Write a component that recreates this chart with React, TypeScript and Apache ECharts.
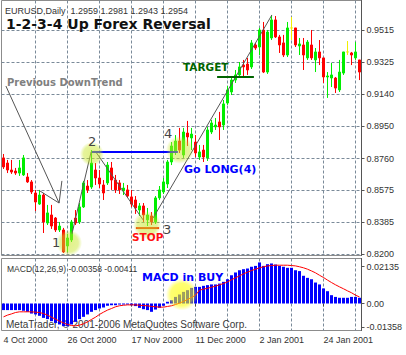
import React, { useEffect, useRef } from 'react';
import * as echarts from 'echarts';

// ---------- data ----------
const START_DATE = '2000-10-04';
const SKIPPED_DAYS: string[] = [];
const BAR_COUNT = 90;
const LABEL_EVERY = 16;
const GRID_EVERY = 8;
const MONTHS = ['Jan', 'Feb', 'Mar', 'Apr', 'May', 'Jun', 'Jul', 'Aug', 'Sep', 'Oct', 'Nov', 'Dec'];

const opens = [
  0.8764, 0.8734, 0.8693, 0.8687, 0.8675, 0.8664, 0.8652, 0.8623, 0.8558, 0.8493,
  0.8546, 0.8382, 0.8429, 0.8411, 0.8341, 0.8341, 0.8247, 0.8282, 0.8411, 0.8388,
  0.8476, 0.8599, 0.8593, 0.8693, 0.8646, 0.8605, 0.8617, 0.8705, 0.8634, 0.8617,
  0.8570, 0.8576, 0.8535, 0.8517, 0.8458, 0.8482, 0.8400, 0.8423, 0.8388, 0.8529,
  0.8564, 0.8611, 0.8740, 0.8799, 0.8863, 0.8781, 0.8910, 0.8881, 0.8857, 0.8769,
  0.8810, 0.8764, 0.8916, 0.8946, 0.8975, 0.8957, 0.9086, 0.9151, 0.9221, 0.9251,
  0.9309, 0.9315, 0.9298, 0.9427, 0.9415, 0.9515, 0.9268, 0.9468, 0.9574, 0.9474,
  0.9439, 0.9368, 0.9527, 0.9527, 0.9421, 0.9427, 0.9351, 0.9427, 0.9339, 0.9386,
  0.9351, 0.9239, 0.9233, 0.9233, 0.9163, 0.9262, 0.9386, 0.9380, 0.9351, 0.9339,
];
const closes = [
  0.8711, 0.8693, 0.8681, 0.8675, 0.8705, 0.8764, 0.8623, 0.8564, 0.8505, 0.8546,
  0.8388, 0.8441, 0.8364, 0.8341, 0.8364, 0.8212, 0.8294, 0.8388, 0.8382, 0.8476,
  0.8617, 0.8576, 0.8734, 0.8646, 0.8611, 0.8558, 0.8722, 0.8634, 0.8576, 0.8576,
  0.8587, 0.8540, 0.8493, 0.8470, 0.8482, 0.8429, 0.8429, 0.8388, 0.8529, 0.8576,
  0.8623, 0.8740, 0.8834, 0.8863, 0.8810, 0.8916, 0.8887, 0.8904, 0.8793, 0.8799,
  0.8769, 0.8928, 0.8969, 0.8957, 0.8946, 0.9081, 0.9163, 0.9221, 0.9251, 0.9298,
  0.9298, 0.9280, 0.9439, 0.9409, 0.9515, 0.9268, 0.9503, 0.9574, 0.9474, 0.9427,
  0.9368, 0.9527, 0.9527, 0.9427, 0.9433, 0.9368, 0.9444, 0.9351, 0.9386, 0.9351,
  0.9239, 0.9245, 0.9251, 0.9174, 0.9268, 0.9386, 0.9386, 0.9368, 0.9386, 0.9268,
];
const lows = [
  0.8699, 0.8675, 0.8670, 0.8664, 0.8658, 0.8658, 0.8617, 0.8552, 0.8452, 0.8488,
  0.8323, 0.8370, 0.8347, 0.8329, 0.8329, 0.8206, 0.8212, 0.8270, 0.8370, 0.8376,
  0.8470, 0.8558, 0.8582, 0.8605, 0.8587, 0.8517, 0.8605, 0.8576, 0.8558, 0.8552,
  0.8546, 0.8529, 0.8476, 0.8435, 0.8423, 0.8388, 0.8364, 0.8370, 0.8376, 0.8517,
  0.8552, 0.8587, 0.8722, 0.8781, 0.8793, 0.8764, 0.8834, 0.8810, 0.8769, 0.8752,
  0.8740, 0.8746, 0.8904, 0.8928, 0.8869, 0.8928, 0.9075, 0.9133, 0.9204, 0.9233,
  0.9239, 0.9251, 0.9286, 0.9398, 0.9368, 0.9262, 0.9257, 0.9456, 0.9468, 0.9380,
  0.9356, 0.9356, 0.9456, 0.9415, 0.9368, 0.9280, 0.9339, 0.9339, 0.9268, 0.9309,
  0.9204, 0.9116, 0.9180, 0.9145, 0.9151, 0.9251, 0.9368, 0.9309, 0.9339, 0.9221,
];
const highs = [
  0.8787, 0.8752, 0.8752, 0.8705, 0.8752, 0.8781, 0.8675, 0.8634, 0.8576, 0.8576,
  0.8558, 0.8488, 0.8488, 0.8417, 0.8388, 0.8353, 0.8317, 0.8400, 0.8458, 0.8499,
  0.8629, 0.8634, 0.8810, 0.8734, 0.8693, 0.8634, 0.8740, 0.8740, 0.8664, 0.8634,
  0.8617, 0.8605, 0.8576, 0.8540, 0.8499, 0.8499, 0.8470, 0.8446, 0.8540, 0.8599,
  0.8646, 0.8752, 0.8857, 0.8898, 0.8940, 0.8940, 0.8981, 0.8940, 0.8898, 0.8840,
  0.8840, 0.8946, 0.8987, 0.8998, 0.9034, 0.9104, 0.9186, 0.9245, 0.9280, 0.9327,
  0.9339, 0.9351, 0.9456, 0.9439, 0.9527, 0.9562, 0.9515, 0.9603, 0.9597, 0.9486,
  0.9486, 0.9562, 0.9591, 0.9527, 0.9468, 0.9468, 0.9456, 0.9515, 0.9409, 0.9456,
  0.9351, 0.9268, 0.9321, 0.9239, 0.9339, 0.9386, 0.9450, 0.9386, 0.9444, 0.9339,
];
const macdMain = [
  -0.0038, -0.0038, -0.0038, -0.0038, -0.0038, -0.0042, -0.0048, -0.0058, -0.0063, -0.0071,
  -0.0083, -0.0090, -0.0102, -0.0112, -0.0121, -0.0131, -0.0131, -0.0121, -0.0106, -0.0090,
  -0.0077, -0.0063, -0.0048, -0.0038, -0.0029, -0.0023, -0.0013, -0.0010, -0.0010, -0.0006,
  -0.0006, -0.0006, -0.0010, -0.0015, -0.0025, -0.0033, -0.0038, -0.0048, -0.0035, -0.0025,
  -0.0013, 0.0010, 0.0019, 0.0038, 0.0052, 0.0067, 0.0077, 0.0090, 0.0096, 0.0096,
  0.0102, 0.0106, 0.0110, 0.0110, 0.0115, 0.0125, 0.0140, 0.0163, 0.0179, 0.0192,
  0.0198, 0.0202, 0.0212, 0.0217, 0.0237, 0.0217, 0.0227, 0.0231, 0.0225, 0.0217,
  0.0212, 0.0206, 0.0206, 0.0192, 0.0187, 0.0160, 0.0148, 0.0140, 0.0121, 0.0110,
  0.0087, 0.0071, 0.0048, 0.0038, 0.0033, 0.0033, 0.0033, 0.0038, 0.0038, 0.0033,
];
const macdSignal = [
  -0.0077, -0.0067, -0.0060, -0.0052, -0.0048, -0.0048, -0.0048, -0.0048, -0.0050, -0.0052,
  -0.0058, -0.0067, -0.0079, -0.0090, -0.0102, -0.0112, -0.0121, -0.0127, -0.0129, -0.0125,
  -0.0117, -0.0106, -0.0092, -0.0079, -0.0063, -0.0050, -0.0038, -0.0029, -0.0019, -0.0013,
  -0.0010, -0.0008, -0.0008, -0.0008, -0.0010, -0.0012, -0.0013, -0.0017, -0.0019, -0.0021,
  -0.0021, -0.0017, -0.0013, -0.0006, 0.0002, 0.0012, 0.0023, 0.0035, 0.0048, 0.0077,
  0.0083, 0.0088, 0.0094, 0.0100, 0.0108, 0.0115, 0.0125, 0.0137, 0.0148, 0.0160,
  0.0171, 0.0181, 0.0190, 0.0198, 0.0206, 0.0212, 0.0217, 0.0219, 0.0221, 0.0221,
  0.0221, 0.0221, 0.0219, 0.0217, 0.0212, 0.0206, 0.0198, 0.0188, 0.0177, 0.0163,
  0.0150, 0.0135, 0.0121, 0.0108, 0.0096, 0.0085, 0.0073, 0.0062, 0.0048, 0.0038,
];

const priceTicks = [0.82, 0.8385, 0.8575, 0.876, 0.895, 0.914, 0.9325, 0.9515];
const macdTicks = [-0.01358, 0, 0.02135];
const PRICE_MIN = 0.8191;
const PRICE_MAX = 0.9688;
const MACD_MIN = -0.01558;
const MACD_MAX = 0.02597;

// annotations in data coordinates: [bar index, value]
const highlightPoints: number[][] = [
  [16.4, 0.8265, 13],
  [22.1, 0.8787, 12],
  [35.9, 0.837, 14],
  [44.1, 0.8811, 14],
];
const macdHighlight = [44.6, 0.0052, 16];
const downTrendArrow = [[0.6, 0.9186], [13.9, 0.8499]];
const arrowWings = [
  [[9.1, 0.857], [13.9, 0.8499]],
  [[14.6, 0.8629], [13.9, 0.8499]],
];
const wave12 = [[17.1, 0.8317], [21.9, 0.8799]];
const wave23 = [[22.9, 0.8805], [34.9, 0.84]];
const wave34 = [[37.4, 0.8411], [67.1, 0.9603]];
const breakoutLevel = { from: 22.1, to: 43.6, price: 0.8799 };
const targetLevel = { from: 53.4, to: 62.6, price: 0.9239 };
const stopLevel = { from: 33.1, to: 38.9, price: 0.8352 };

// ---------- helpers ----------
function tradingDays(start: string, count: number, skip: string[]): string[] {
  const out: string[] = [];
  const d = new Date(start + 'T00:00:00Z');
  while (out.length < count) {
    const dow = d.getUTCDay();
    const iso = d.toISOString().slice(0, 10);
    if (dow !== 0 && dow !== 6 && skip.indexOf(iso) < 0) {
      out.push(`${d.getUTCDate()} ${MONTHS[d.getUTCMonth()]} ${d.getUTCFullYear()}`);
    }
    d.setUTCDate(d.getUTCDate() + 1);
  }
  return out;
}

const BULL = '#00ee00';
const BEAR = '#ff0000';
const DOJI = '#f0f000';
const GRID_COLOR = '#7a8a99';
const AXIS_FONT = 'Liberation Sans';
const BOLD_FONT = 'DejaVu Sans';

export default function App() {
  const ref = useRef<HTMLDivElement>(null);

  useEffect(() => {
    if (!ref.current) return;
    const chart = echarts.init(ref.current, null, { renderer: 'svg' });
    const dates = tradingDays(START_DATE, BAR_COUNT, SKIPPED_DAYS);

    const candleData = opens.map((o, i) => {
      const v = [o, closes[i], lows[i], highs[i]];
      if (o === closes[i]) {
        return {
          value: v,
          itemStyle: { color: DOJI, color0: DOJI, borderColor: DOJI, borderColor0: DOJI, borderColorDoji: DOJI },
        };
      }
      return v;
    });

    const vSplit = {
      show: true,
      alignWithLabel: true,
      interval: (i: number) => i > 0 && i % GRID_EVERY === 0,
      lineStyle: { color: GRID_COLOR, type: [3, 2], width: 1 },
    };

    const option: any = {
      animation: false,
      backgroundColor: '#ffffff',
      grid: [
        { left: 1.5, top: 0.5, width: 360, height: 255, show: true, borderColor: '#8c8c8c', borderWidth: 1 },
        { left: 1.5, top: 258.5, width: 360, height: 72, show: true, borderColor: '#8c8c8c', borderWidth: 1 },
      ],
      xAxis: [
        {
          type: 'category', gridIndex: 0, data: dates, boundaryGap: true,
          axisLine: { show: false }, axisTick: { show: false }, axisLabel: { show: false },
          splitLine: vSplit,
        },
        {
          type: 'category', gridIndex: 1, data: dates, boundaryGap: true,
          axisLine: { show: false },
          axisTick: {
            show: true, alignWithLabel: true, length: 3,
            interval: (i: number) => i % LABEL_EVERY === 0,
            lineStyle: { color: '#444' },
          },
          axisLabel: {
            interval: (i: number) => i % LABEL_EVERY === 0,
            align: 'left', margin: 5, fontSize: 9, color: '#333', fontFamily: AXIS_FONT,
          },
          splitLine: vSplit,
        },
      ],
      yAxis: [
        {
          type: 'value', gridIndex: 0, position: 'right', min: PRICE_MIN, max: PRICE_MAX,
          axisLine: { show: true, lineStyle: { color: '#555' } },
          axisTick: { show: true, length: 3, customValues: priceTicks, lineStyle: { color: '#555' } },
          axisLabel: {
            customValues: priceTicks, margin: 5, fontSize: 9, color: '#333', fontFamily: AXIS_FONT,
            formatter: (v: number) => v.toFixed(4),
          },
          splitLine: { show: true, lineStyle: { color: GRID_COLOR, type: [3, 2], width: 1 } },
        },
        {
          type: 'value', gridIndex: 1, position: 'right', min: MACD_MIN, max: MACD_MAX,
          axisLine: { show: true, lineStyle: { color: '#555' } },
          axisTick: { show: true, length: 3, customValues: macdTicks, lineStyle: { color: '#555' } },
          axisLabel: {
            customValues: macdTicks, margin: 5, fontSize: 9, color: '#333', fontFamily: AXIS_FONT,
            formatter: (v: number) => (v === 0 ? '0.00' : v.toFixed(5)),
          },
          splitLine: { show: false },
        },
      ],
      series: [
        {
          type: 'candlestick', xAxisIndex: 0, yAxisIndex: 0, data: candleData, barWidth: 2,
          itemStyle: { color: BULL, color0: BEAR, borderColor: BULL, borderColor0: BEAR, borderColorDoji: DOJI, borderWidth: 1 },
        },
        {
          type: 'bar', xAxisIndex: 1, yAxisIndex: 1, data: macdMain, barWidth: 3,
          itemStyle: { color: '#0000ff' },
        },
        {
          type: 'line', xAxisIndex: 1, yAxisIndex: 1, data: macdSignal, symbol: 'none',
          lineStyle: { color: '#ff0000', width: 1 },
        },
      ],
    };
    chart.setOption(option);

    const toPx = (gridIndex: number, idx: number, val: number) => {
      const i0 = Math.floor(idx);
      const a = chart.convertToPixel({ gridIndex }, [i0, val]) as number[];
      const b = chart.convertToPixel({ gridIndex }, [i0 + 1, val]) as number[];
      return [a[0] + (b[0] - a[0]) * (idx - i0), a[1]];
    };
    const seg = (gridIndex: number, p: number[], q: number[], stroke: string, lineWidth: number, z: number) => {
      const a = toPx(gridIndex, p[0], p[1]);
      const b = toPx(gridIndex, q[0], q[1]);
      return {
        type: 'line', z, silent: true,
        shape: { x1: a[0], y1: a[1], x2: b[0], y2: b[1] },
        style: { stroke, lineWidth },
      };
    };
    const glow = (gridIndex: number, p: number[], rgb: string, alpha: number) => {
      const c = toPx(gridIndex, p[0], p[1]);
      return {
        type: 'circle', z: 50, silent: true,
        shape: { cx: c[0], cy: c[1], r: p[2] },
        style: {
          fill: {
            type: 'radial', x: 0.5, y: 0.5, r: 0.5,
            colorStops: [
              { offset: 0, color: `rgba(${rgb},${alpha})` },
              { offset: 0.7, color: `rgba(${rgb},${alpha * 0.85})` },
              { offset: 1, color: `rgba(${rgb},0)` },
            ],
          },
        },
      };
    };
    const txt = (text: string, x: number, y: number, size: number, color: string, bold: boolean, family: string, z = 100) => ({
      type: 'text', x, y, z, silent: true,
      style: {
        text, fill: color, fontSize: size, fontWeight: bold ? 'bold' : 'normal',
        fontFamily: family, verticalAlign: 'middle', align: 'left',
      },
    });

    const LINE_GRAY = '#555555';
    const graphic: any[] = [
      seg(0, downTrendArrow[0], downTrendArrow[1], LINE_GRAY, 1, 40),
      ...arrowWings.map((w) => seg(0, w[0], w[1], LINE_GRAY, 1, 40)),
      seg(0, wave12[0], wave12[1], LINE_GRAY, 1, 40),
      seg(0, wave23[0], wave23[1], LINE_GRAY, 1, 40),
      seg(0, wave34[0], wave34[1], LINE_GRAY, 1, 40),
      seg(0, [breakoutLevel.from, breakoutLevel.price], [breakoutLevel.to, breakoutLevel.price], '#0000ff', 2, 40),
      seg(0, [targetLevel.from, targetLevel.price], [targetLevel.to, targetLevel.price], '#006400', 2, 40),
      seg(0, [stopLevel.from, stopLevel.price], [stopLevel.to, stopLevel.price], '#ff2000', 2, 40),
      ...highlightPoints.map((p) => glow(0, p, '200,230,40', 0.55)),
      glow(1, macdHighlight, '255,255,0', 0.65),
      txt('EURUSD,Daily  1.2959 1.2981 1.2943 1.2954', 5, 11, 9, '#333333', false, AXIS_FONT),
      txt('1-2-3-4 Up Forex Reversal', 6, 24, 14, '#111111', true, BOLD_FONT),
      txt('Previous DownTrend', 7, 82, 10, '#808080', true, BOLD_FONT),
      txt('TARGET', 183, 67, 10.5, '#006400', true, BOLD_FONT),
      txt('Go LONG(4)', 184, 169, 11, '#0000ff', true, BOLD_FONT),
      txt('STOP', 132, 237, 10.5, '#ff1010', true, BOLD_FONT),
      txt('1', 52, 242, 13, '#444444', false, BOLD_FONT),
      txt('2', 88, 141, 13, '#444444', false, BOLD_FONT),
      txt('3', 163, 229, 13, '#444444', false, BOLD_FONT),
      txt('4', 164, 133, 13, '#444444', false, BOLD_FONT),
      txt('MACD(12,26,9) -0.00358 -0.00411', 7, 269, 8.5, '#333333', false, AXIS_FONT),
      txt('MACD in BUY', 142, 277, 11, '#0000ff', true, BOLD_FONT),
      txt('MetaTrader, © 2001-2006 MetaQuotes Software Corp.', 6, 324, 10, '#3a3a3a', false, AXIS_FONT, 1),
    ];
    chart.setOption({ graphic });

    return () => chart.dispose();
  }, []);

  return (
    <div
      ref={ref}
      style={{ position: 'fixed', left: 0, top: 0, width: 406, height: 355, background: '#ffffff' }}
    />
  );
}
